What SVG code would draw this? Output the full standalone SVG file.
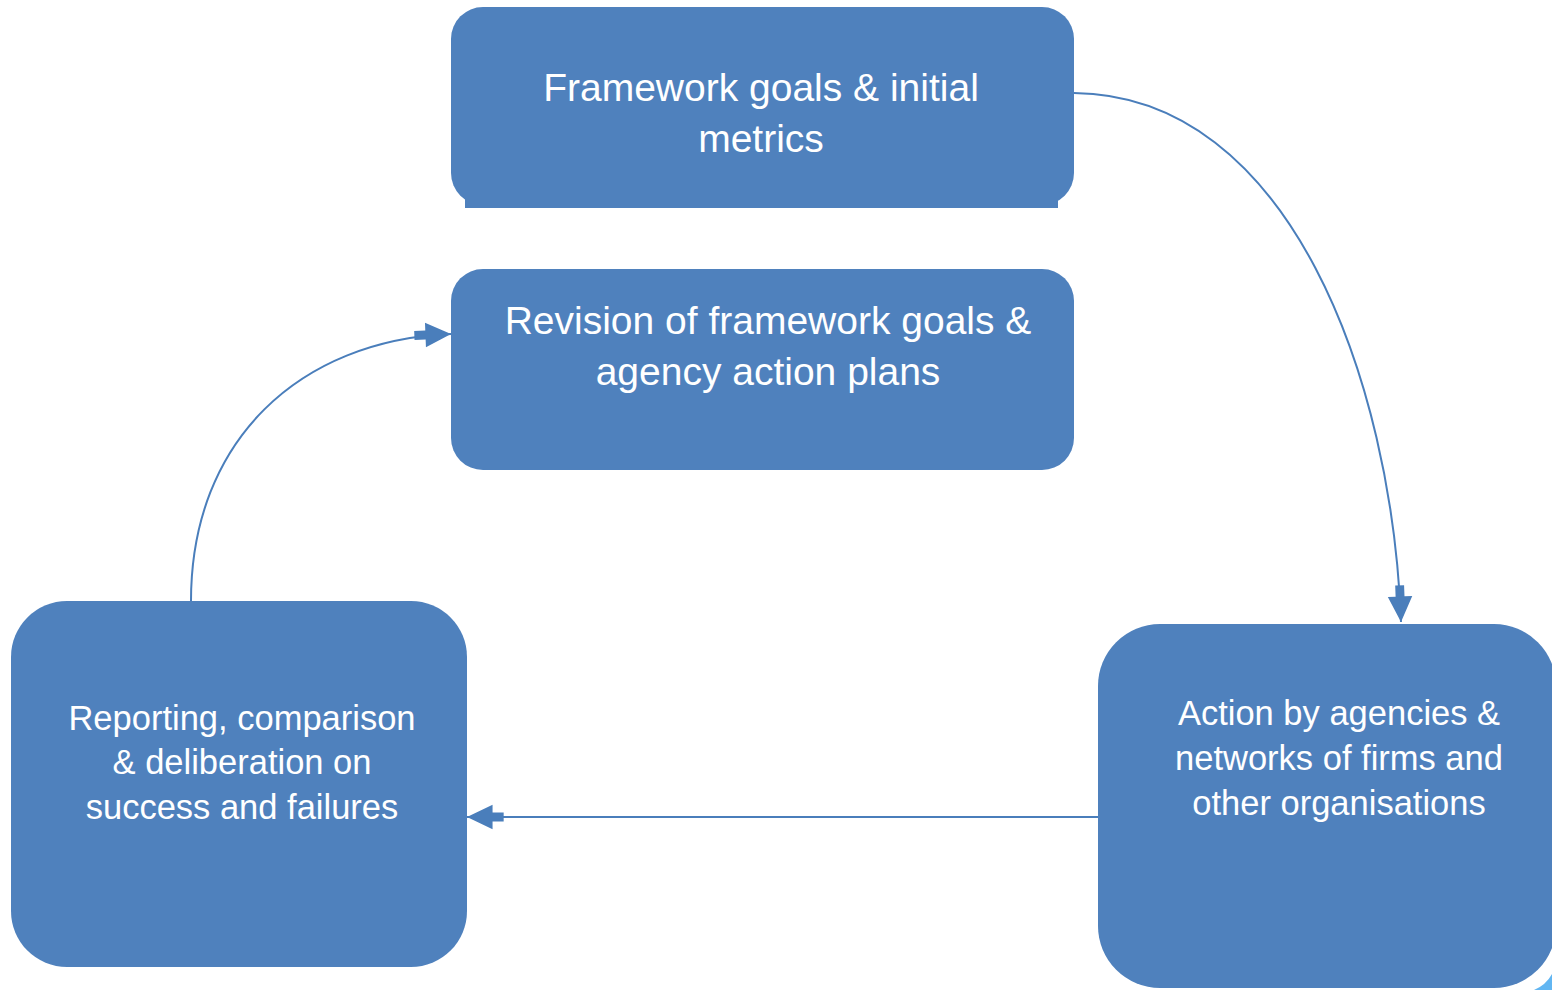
<svg xmlns="http://www.w3.org/2000/svg" width="1552" height="990" viewBox="0 0 1552 990">
<style>
.box{fill:#4F81BD}
.t{fill:#ffffff;font-family:"Liberation Sans","Open Sans",sans-serif;text-anchor:middle}
.big{font-size:39px}
.sm{font-size:34.5px}
.conn{fill:none;stroke:#4A7EBB;stroke-width:2}
</style>
<defs>
<marker id="ah" markerUnits="userSpaceOnUse" markerWidth="40" markerHeight="30" viewBox="-34 -12 36 24" refX="0" refY="0" orient="auto" overflow="visible">
<path d="M0 0 L-23 -11 L-23 -4 L-33 -4 L-33 4 L-23 4 L-23 11 Z" fill="#4A7EBB"/>
</marker>
</defs>
<rect width="1552" height="990" fill="#ffffff"/>
<g id="connectors">
<path class="conn" d="M1074 93 C1290 95 1392 380 1401 622" marker-end="url(#ah)"/>
<path class="conn" d="M191 601 C191 440 300 340 451 334" marker-end="url(#ah)"/>
<path class="conn" d="M1098 817 L467 817" marker-end="url(#ah)"/>
</g>
<g id="node-framework">
<rect class="box" x="451" y="7" width="623" height="198" rx="32"/>
<rect class="box" x="465" y="190" width="593" height="18"/>
<text class="t big" x="761" y="101">Framework goals &amp; initial</text>
<text class="t big" x="761" y="152">metrics</text>
</g>
<g id="node-revision">
<rect class="box" x="451" y="269" width="623" height="201" rx="32"/>
<text class="t big" x="768" y="334">Revision of framework goals &amp;</text>
<text class="t big" x="768" y="385">agency action plans</text>
</g>
<g id="node-reporting">
<rect class="box" x="11" y="601" width="456" height="366" rx="56"/>
<text class="t sm" x="242" y="730">Reporting, comparison</text>
<text class="t sm" x="242" y="774">&amp; deliberation on</text>
<text class="t sm" x="242" y="819">success and failures</text>
</g>
<g id="node-action">
<rect class="box" x="1098" y="624" width="458" height="364" rx="62"/>
<text class="t sm" x="1339" y="725">Action by agencies &amp;</text>
<text class="t sm" x="1339" y="770">networks of firms and</text>
<text class="t sm" x="1339" y="815">other organisations</text>
</g>
<path d="M1552 974 Q1546 985 1534 990 L1552 990 Z" fill="#62B6F2"/>
</svg>
